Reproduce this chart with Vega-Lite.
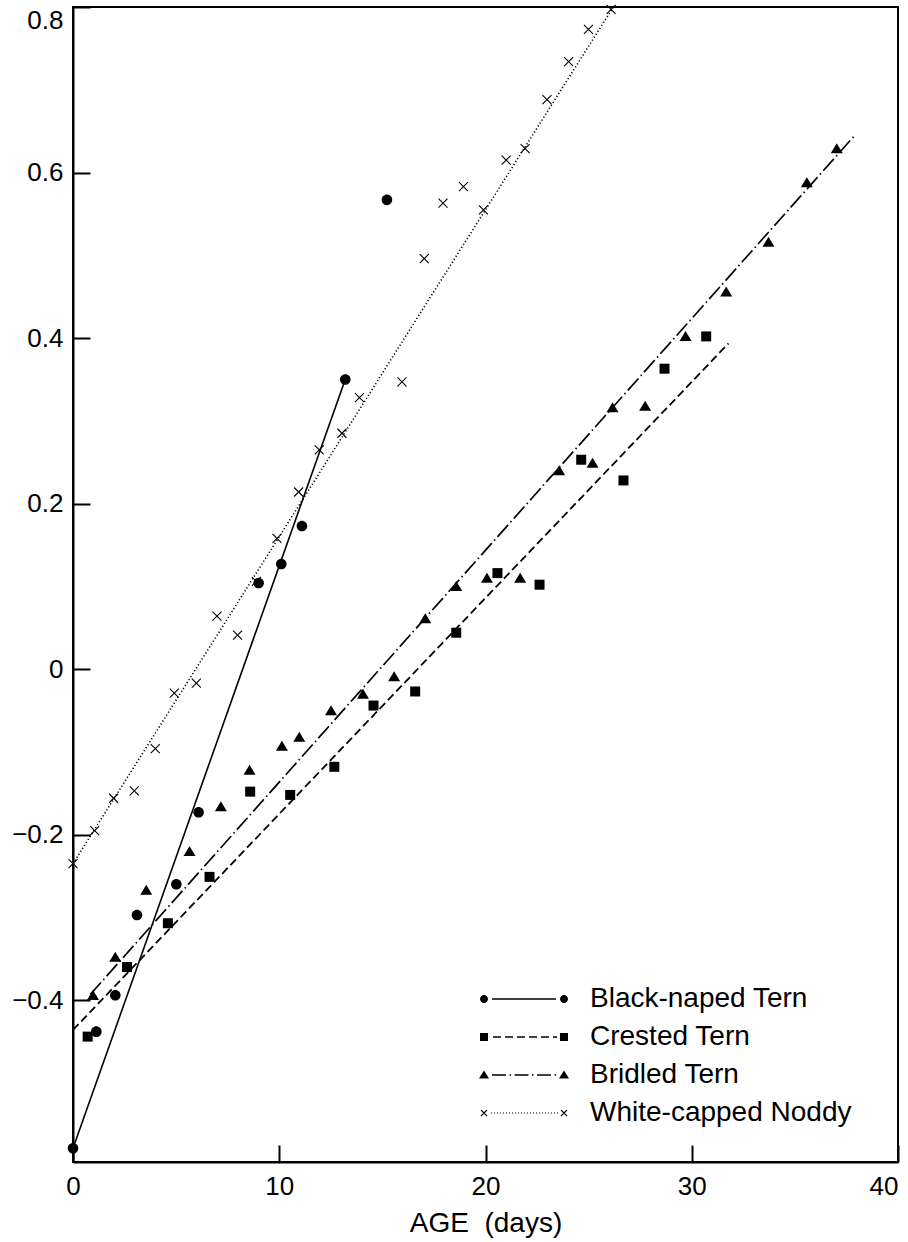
{
  "$schema": "https://vega.github.io/schema/vega-lite/v6.json",
  "width": 825,
  "height": 1155,
  "autosize": {"type": "none"},
  "padding": {"left": 73, "top": 7, "right": 10, "bottom": 80},
  "background": "white",
  "config": {
    "view": {"stroke": "black", "strokeWidth": 2},
    "font": "Liberation Sans",
    "axis": {
      "grid": false,
      "ticks": true,
      "domainColor": "black",
      "domainWidth": 2,
      "tickColor": "black",
      "tickWidth": 2,
      "labelColor": "black",
      "labelFont": "Liberation Sans",
      "labelFontSize": 26,
      "titleColor": "black",
      "titleFont": "Liberation Sans",
      "titleFontSize": 28,
      "titleFontWeight": "normal"
    }
  },
  "datasets": {
    "points": [
      {"species": "Black-naped Tern", "age": 0, "value": -0.579},
      {"species": "Black-naped Tern", "age": 1.13, "value": -0.438},
      {"species": "Black-naped Tern", "age": 2.05, "value": -0.394},
      {"species": "Black-naped Tern", "age": 3.1, "value": -0.297},
      {"species": "Black-naped Tern", "age": 5.01, "value": -0.26},
      {"species": "Black-naped Tern", "age": 6.09, "value": -0.173},
      {"species": "Black-naped Tern", "age": 9.0, "value": 0.104},
      {"species": "Black-naped Tern", "age": 10.1, "value": 0.127},
      {"species": "Black-naped Tern", "age": 11.1, "value": 0.173},
      {"species": "Black-naped Tern", "age": 13.2, "value": 0.35},
      {"species": "Black-naped Tern", "age": 15.22, "value": 0.567},
      {"species": "Crested Tern", "age": 0.71, "value": -0.444},
      {"species": "Crested Tern", "age": 2.62, "value": -0.36},
      {"species": "Crested Tern", "age": 4.6, "value": -0.307},
      {"species": "Crested Tern", "age": 6.62, "value": -0.251},
      {"species": "Crested Tern", "age": 8.59, "value": -0.148},
      {"species": "Crested Tern", "age": 10.53, "value": -0.152},
      {"species": "Crested Tern", "age": 12.67, "value": -0.118},
      {"species": "Crested Tern", "age": 14.57, "value": -0.044},
      {"species": "Crested Tern", "age": 16.59, "value": -0.027},
      {"species": "Crested Tern", "age": 18.58, "value": 0.044},
      {"species": "Crested Tern", "age": 20.58, "value": 0.116},
      {"species": "Crested Tern", "age": 22.62, "value": 0.102},
      {"species": "Crested Tern", "age": 24.64, "value": 0.253},
      {"species": "Crested Tern", "age": 26.69, "value": 0.228},
      {"species": "Crested Tern", "age": 28.68, "value": 0.363},
      {"species": "Crested Tern", "age": 30.7, "value": 0.402},
      {"species": "Bridled Tern", "age": 0.97, "value": -0.394},
      {"species": "Bridled Tern", "age": 2.05, "value": -0.348},
      {"species": "Bridled Tern", "age": 3.55, "value": -0.267},
      {"species": "Bridled Tern", "age": 5.65, "value": -0.22},
      {"species": "Bridled Tern", "age": 7.17, "value": -0.166},
      {"species": "Bridled Tern", "age": 8.56, "value": -0.122},
      {"species": "Bridled Tern", "age": 10.13, "value": -0.093},
      {"species": "Bridled Tern", "age": 10.97, "value": -0.082},
      {"species": "Bridled Tern", "age": 12.51, "value": -0.05},
      {"species": "Bridled Tern", "age": 14.06, "value": -0.03},
      {"species": "Bridled Tern", "age": 15.57, "value": -0.009},
      {"species": "Bridled Tern", "age": 17.08, "value": 0.061},
      {"species": "Bridled Tern", "age": 18.58, "value": 0.1},
      {"species": "Bridled Tern", "age": 20.07, "value": 0.11},
      {"species": "Bridled Tern", "age": 21.68, "value": 0.11},
      {"species": "Bridled Tern", "age": 23.57, "value": 0.24},
      {"species": "Bridled Tern", "age": 25.19, "value": 0.249},
      {"species": "Bridled Tern", "age": 26.16, "value": 0.316},
      {"species": "Bridled Tern", "age": 27.74, "value": 0.318},
      {"species": "Bridled Tern", "age": 29.7, "value": 0.402},
      {"species": "Bridled Tern", "age": 31.67, "value": 0.456},
      {"species": "Bridled Tern", "age": 33.72, "value": 0.516},
      {"species": "Bridled Tern", "age": 35.58, "value": 0.588},
      {"species": "Bridled Tern", "age": 37.03, "value": 0.629},
      {"species": "White-capped Noddy", "age": 0, "value": -0.235},
      {"species": "White-capped Noddy", "age": 1.05, "value": -0.195},
      {"species": "White-capped Noddy", "age": 1.97, "value": -0.156},
      {"species": "White-capped Noddy", "age": 2.97, "value": -0.147},
      {"species": "White-capped Noddy", "age": 3.99, "value": -0.096},
      {"species": "White-capped Noddy", "age": 4.91, "value": -0.029},
      {"species": "White-capped Noddy", "age": 5.98, "value": -0.017},
      {"species": "White-capped Noddy", "age": 6.98, "value": 0.064},
      {"species": "White-capped Noddy", "age": 7.98, "value": 0.041},
      {"species": "White-capped Noddy", "age": 8.89, "value": 0.106},
      {"species": "White-capped Noddy", "age": 9.89, "value": 0.158},
      {"species": "White-capped Noddy", "age": 10.94, "value": 0.214},
      {"species": "White-capped Noddy", "age": 11.94, "value": 0.265},
      {"species": "White-capped Noddy", "age": 13.04, "value": 0.285},
      {"species": "White-capped Noddy", "age": 13.89, "value": 0.328},
      {"species": "White-capped Noddy", "age": 15.95, "value": 0.347},
      {"species": "White-capped Noddy", "age": 17.03, "value": 0.496},
      {"species": "White-capped Noddy", "age": 17.94, "value": 0.563},
      {"species": "White-capped Noddy", "age": 18.93, "value": 0.583},
      {"species": "White-capped Noddy", "age": 19.9, "value": 0.555},
      {"species": "White-capped Noddy", "age": 21.0, "value": 0.615},
      {"species": "White-capped Noddy", "age": 21.92, "value": 0.629},
      {"species": "White-capped Noddy", "age": 22.98, "value": 0.688},
      {"species": "White-capped Noddy", "age": 24.03, "value": 0.734},
      {"species": "White-capped Noddy", "age": 24.99, "value": 0.773},
      {"species": "White-capped Noddy", "age": 26.09, "value": 0.797}
    ],
    "fits": [
      {"species": "Black-naped Tern", "age": 0, "value": -0.579},
      {"species": "Black-naped Tern", "age": 13.2, "value": 0.35},
      {"species": "Crested Tern", "age": 0, "value": -0.436},
      {"species": "Crested Tern", "age": 31.78, "value": 0.3935},
      {"species": "Bridled Tern", "age": 0.84, "value": -0.393},
      {"species": "Bridled Tern", "age": 37.87, "value": 0.644},
      {"species": "White-capped Noddy", "age": 0, "value": -0.235},
      {"species": "White-capped Noddy", "age": 26.2, "value": 0.8}
    ]
  },
  "encoding": {
    "x": {
      "field": "age",
      "type": "quantitative",
      "scale": {"domain": [0, 40], "nice": false, "zero": false},
      "axis": {
        "values": [0, 10, 20, 30, 40],
        "format": "d",
        "ticks": true,
        "tickSize": -17,
        "tickColor": "black",
        "tickWidth": 2,
        "labelPadding": 28,
        "labelFlush": false,
        "labelAlign": {"condition": {"test": "datum.value === 40", "value": "right"}, "value": "center"},
        "title": "AGE\u00a0 (days)",
        "titlePadding": 10
      }
    },
    "y": {
      "field": "value",
      "type": "quantitative",
      "scale": {"domain": [-0.5955, 0.8], "nice": false, "zero": false},
      "axis": {
        "values": [-0.4, -0.2, 0, 0.2, 0.4, 0.6, 0.8],
        "format": ".1~f",
        "ticks": true,
        "tickSize": -17,
        "tickColor": "black",
        "tickWidth": 2,
        "labelPadding": 27,
        "labelFlush": false,
        "labelBaseline": {"condition": {"test": "datum.value > 0.75", "value": "top"}, "value": "middle"},
        "title": null
      }
    }
  },
  "layer": [
    {
      "data": {"name": "fits"},
      "transform": [{"filter": "datum.species === 'Black-naped Tern'"}],
      "mark": {"type": "line", "color": "black", "strokeWidth": 1.6}
    },
    {
      "data": {"name": "fits"},
      "transform": [{"filter": "datum.species === 'Crested Tern'"}],
      "mark": {"type": "line", "color": "black", "strokeWidth": 1.8, "strokeDash": [8, 4]}
    },
    {
      "data": {"name": "fits"},
      "transform": [{"filter": "datum.species === 'Bridled Tern'"}],
      "mark": {"type": "line", "color": "black", "strokeWidth": 1.7, "strokeDash": [16, 3.5, 1.5, 3.5]}
    },
    {
      "data": {"name": "fits"},
      "transform": [{"filter": "datum.species === 'White-capped Noddy'"}],
      "mark": {"type": "line", "color": "black", "strokeWidth": 1.6, "strokeDash": [1.2, 2.3]}
    },
    {
      "data": {"name": "points"},
      "transform": [{"filter": "datum.species === 'Black-naped Tern'"}],
      "mark": {"type": "point", "filled": true, "color": "black", "opacity": 1, "size": 4, "shape": "M-5.3,0A5.3,5.3 0 1,0 5.3,0A5.3,5.3 0 1,0 -5.3,0Z"}
    },
    {
      "data": {"name": "points"},
      "transform": [{"filter": "datum.species === 'Crested Tern'"}],
      "mark": {"type": "point", "filled": true, "color": "black", "opacity": 1, "size": 4, "shape": "M-5,-5L5,-5L5,5L-5,5Z"}
    },
    {
      "data": {"name": "points"},
      "transform": [{"filter": "datum.species === 'Bridled Tern'"}],
      "mark": {"type": "point", "filled": true, "color": "black", "opacity": 1, "size": 4, "shape": "M0,-5.3L6,4.7L-6,4.7Z"}
    },
    {
      "data": {"name": "points"},
      "transform": [{"filter": "datum.species === 'White-capped Noddy'"}],
      "mark": {"type": "point", "filled": false, "color": "black", "strokeWidth": 1.1, "opacity": 1, "size": 4, "shape": "M-4.5,-4.5L4.5,4.5M-4.5,4.5L4.5,-4.5"}
    },
    {
      "data": {"name": "fits"},
      "mark": {"type": "point", "filled": true, "color": "black", "opacity": 0, "size": 4},
      "encoding": {
        "shape": {
          "field": "species",
          "type": "nominal",
          "scale": {
            "domain": ["Black-naped Tern", "Crested Tern", "Bridled Tern", "White-capped Noddy"],
            "range": [
              "M-4,0A4,4 0 1,0 4,0A4,4 0 1,0 -4,0ZM76,0A4,4 0 1,0 84,0A4,4 0 1,0 76,0ZM8,-0.7L72,-0.7L72,0.7L8,0.7Z",
              "M-4,-4L4,-4L4,4L-4,4ZM76,-4L84,-4L84,4L76,4ZM9,-0.8L17,-0.8L17,0.8L9,0.8ZM21,-0.8L29,-0.8L29,0.8L21,0.8ZM33,-0.8L41,-0.8L41,0.8L33,0.8ZM45,-0.8L53,-0.8L53,0.8L45,0.8ZM57,-0.8L65,-0.8L65,0.8L57,0.8ZM69,-0.8L73,-0.8L73,0.8L69,0.8Z",
              "M0,-4.5L5,3.5L-5,3.5ZM80,-4.5L85,3.5L75,3.5ZM8,-0.75L22,-0.75L22,0.75L8,0.75ZM25.5,-0.75L27,-0.75L27,0.75L25.5,0.75ZM30.5,-0.75L44.5,-0.75L44.5,0.75L30.5,0.75ZM48,-0.75L49.5,-0.75L49.5,0.75L48,0.75ZM53,-0.75L67,-0.75L67,0.75L53,0.75ZM70.5,-0.75L72,-0.75L72,0.75L70.5,0.75Z",
              "M-2.61,-3.39L3.39,2.61L2.61,3.39L-3.39,-2.61ZM-3.39,2.61L2.61,-3.39L3.39,-2.61L-2.61,3.39ZM77.39,-3.39L83.39,2.61L82.61,3.39L76.61,-2.61ZM76.61,2.61L82.61,-3.39L83.39,-2.61L77.39,3.39ZM7,-0.55L8.1,-0.55L8.1,0.55L7,0.55ZM10,-0.55L11.1,-0.55L11.1,0.55L10,0.55ZM13,-0.55L14.1,-0.55L14.1,0.55L13,0.55ZM16,-0.55L17.1,-0.55L17.1,0.55L16,0.55ZM19,-0.55L20.1,-0.55L20.1,0.55L19,0.55ZM22,-0.55L23.1,-0.55L23.1,0.55L22,0.55ZM25,-0.55L26.1,-0.55L26.1,0.55L25,0.55ZM28,-0.55L29.1,-0.55L29.1,0.55L28,0.55ZM31,-0.55L32.1,-0.55L32.1,0.55L31,0.55ZM34,-0.55L35.1,-0.55L35.1,0.55L34,0.55ZM37,-0.55L38.1,-0.55L38.1,0.55L37,0.55ZM40,-0.55L41.1,-0.55L41.1,0.55L40,0.55ZM43,-0.55L44.1,-0.55L44.1,0.55L43,0.55ZM46,-0.55L47.1,-0.55L47.1,0.55L46,0.55ZM49,-0.55L50.1,-0.55L50.1,0.55L49,0.55ZM52,-0.55L53.1,-0.55L53.1,0.55L52,0.55ZM55,-0.55L56.1,-0.55L56.1,0.55L55,0.55ZM58,-0.55L59.1,-0.55L59.1,0.55L58,0.55ZM61,-0.55L62.1,-0.55L62.1,0.55L61,0.55ZM64,-0.55L65.1,-0.55L65.1,0.55L64,0.55ZM67,-0.55L68.1,-0.55L68.1,0.55L67,0.55ZM70,-0.55L71.1,-0.55L71.1,0.55L70,0.55ZM73,-0.55L74.1,-0.55L74.1,0.55L73,0.55Z"
            ]
          },
          "legend": {
            "title": null,
            "orient": "none",
            "legendX": 397,
            "legendY": 978,
            "padding": 0,
            "symbolSize": 4,
            "symbolOpacity": 1,
            "symbolFillColor": "black",
            "symbolStrokeWidth": 0,
            "labelFont": "Liberation Sans",
            "labelFontSize": 28,
            "labelColor": "black",
            "labelLimit": 0,
            "labelOffset": 92,
            "rowPadding": 10
          }
        }
      }
    }
  ]
}
